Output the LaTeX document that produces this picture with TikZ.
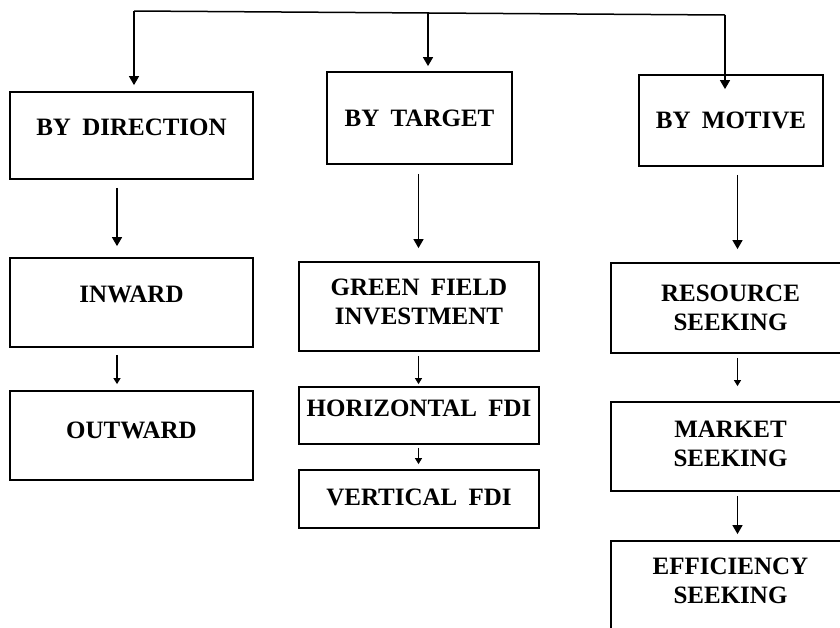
\documentclass[tikz,border=0pt]{standalone}
\usepackage{fontspec}
\setmainfont{Liberation Serif}[WordSpace=1.8]
\usetikzlibrary{arrows.meta}

\tikzset{
  box/.style={draw, line width=0.9pt, rectangle, inner sep=0pt, align=center,
    font=\bfseries\fontsize{12.5}{14.5}\selectfont},
  arr/.style={line width=0.75pt, -{Triangle[length=4.5pt,width=5pt]}},
  arrsm/.style={line width=0.6pt, -{Triangle[length=3pt,width=3.5pt]}}
}

\begin{document}
\begin{tikzpicture}[x=0.5pt,y=-0.5pt]
  \useasboundingbox (0,0) rectangle (840,627);

  % first level
  \node[box, minimum width=121.5pt, minimum height=43.5pt, text depth=8.5pt] (dir) at (131.5,135.5) {BY DIRECTION};
  \node[box, minimum width=92.5pt, minimum height=46pt, text depth=0pt] (target) at (419.5,118) {BY TARGET};
  \node[box, minimum width=92pt, minimum height=45.5pt, text depth=0pt] (motive) at (731,120.5) {BY MOTIVE};

  % by direction
  \node[box, minimum width=121.5pt, minimum height=44.5pt, text depth=8.5pt] (inward) at (131.5,302.5) {INWARD};
  \node[box, minimum width=121.5pt, minimum height=44.5pt, text depth=5.5pt] (outward) at (131.5,435.5) {OUTWARD};

  % by target
  \node[box, minimum width=120pt, minimum height=44.5pt, text depth=4.5pt] (green) at (419,306.5) {GREEN FIELD\\INVESTMENT};
  \node[box, minimum width=120pt, minimum height=28.5pt, text depth=7.5pt] (horiz) at (419,415.5) {HORIZONTAL FDI};
  \node[box, minimum width=120pt, minimum height=29pt, text depth=2pt] (vert) at (419,499) {VERTICAL FDI};

  % by motive
  \node[box, minimum width=119.5pt, minimum height=45pt, text depth=0pt] (resource) at (730.5,308) {RESOURCE\\SEEKING};
  \node[box, minimum width=119.5pt, minimum height=44.5pt, text depth=2.5pt] (market) at (730.5,446.5) {MARKET\\SEEKING};
  \node[box, minimum width=119.5pt, minimum height=49.5pt, text depth=9.5pt] (efficiency) at (730.5,590.5) {EFFICIENCY\\SEEKING};

  % top bracket
  \coordinate (tl) at (134,11);
  \coordinate (tm) at (428,13);
  \coordinate (tr) at (725,15);
  \draw[line width=0.75pt] (tl) -- (tr);
  \draw[arr, shorten >=3pt] (tl) -- (tl |- dir.north);
  \draw[arr, shorten >=2.5pt] (tm) -- (tm |- target.north);
  \draw[arr] (tr) -- ([yshift=-7.5pt]tr |- motive.north);

  % columns
  \coordinate (cl) at (117,0);
  \coordinate (cm) at (418.5,0);
  \coordinate (cr) at (737.5,0);
  \draw[arr, shorten <=4pt, shorten >=5.5pt] (dir.south -| cl) -- (inward.north -| cl);
  \draw[arrsm, shorten <=3.5pt, shorten >=3pt] (inward.south -| cl) -- (outward.north -| cl);
  \draw[arr, shorten <=4.5pt, shorten >=6.5pt] (target.south -| cm) -- (green.north -| cm);
  \draw[arrsm, shorten <=2pt, shorten >=1pt] (green.south -| cm) -- (horiz.north -| cm);
  \draw[arrsm, shorten <=1.5pt, shorten >=2.5pt] (horiz.south -| cm) -- (vert.north -| cm);
  \draw[arr, shorten <=4pt, shorten >=6.5pt] (motive.south -| cr) -- (resource.north -| cr);
  \draw[arrsm, shorten <=2pt, shorten >=7.5pt] (resource.south -| cr) -- (market.north -| cr);
  \draw[arr, shorten <=2pt, shorten >=3pt] (market.south -| cr) -- (efficiency.north -| cr);
\end{tikzpicture}
\end{document}
